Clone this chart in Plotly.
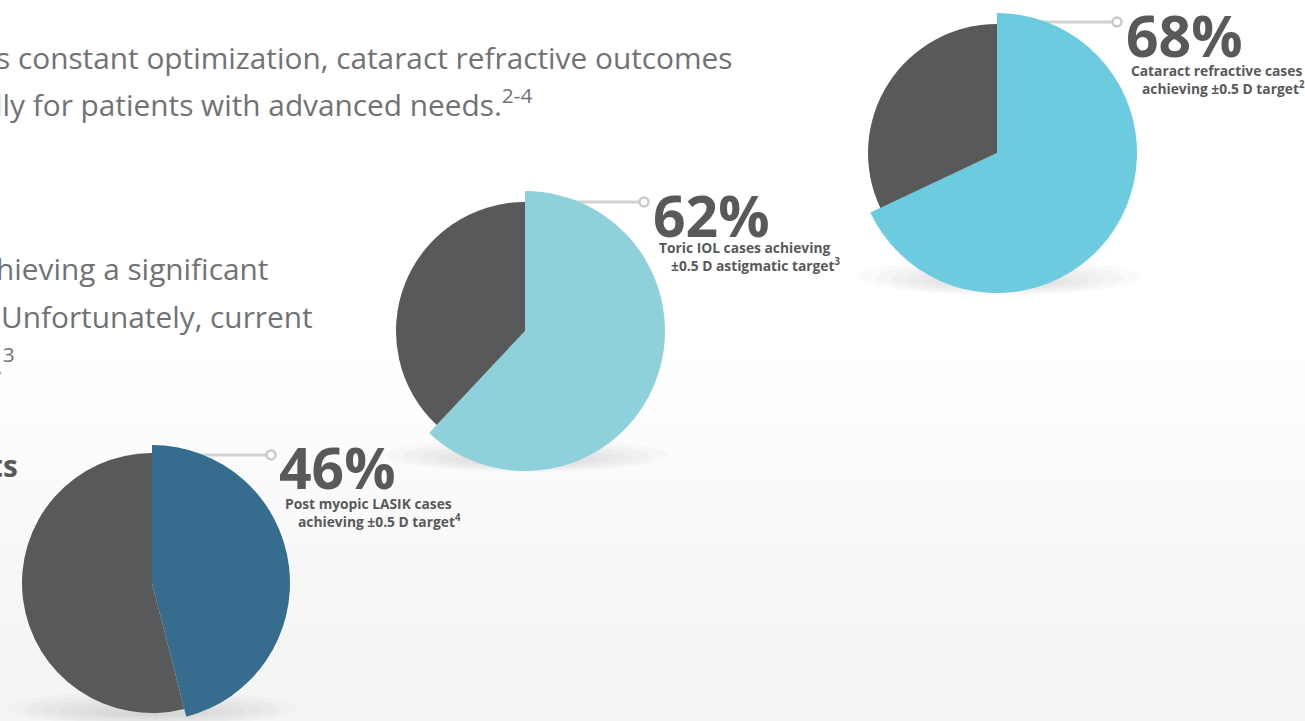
import plotly.graph_objects as go

W, H = 1305, 721

# ---- data ----
percents = [46, 62, 68]
big_labels = ["46%", "62%", "68%"]
caption_line1 = ["Post myopic LASIK cases", "Toric IOL cases achieving", "Cataract refractive cases"]
caption_line2 = ["achieving ±0.5 D target<sup>4</sup>", "±0.5 D astigmatic target<sup>3</sup>", "achieving ±0.5 D target<sup>2</sup>"]

# ---- style / layout ----
accent = ["#366d8e", "#8ed1da", "#6dcbe0"]
GRAY = "#58595b"
centers = [(152, 583), (525, 331), (997, 153)]
r_out = [138, 140, 140]
r_in = [130, 129, 129]
big_pos = [(277, 467), (651, 215), (1124, 35)]
cap1_pos = [(283, 503), (657, 247), (1129, 70)]
cap2_pos = [(296, 521), (669, 265), (1140, 88)]
ring_x = [271, 644, 1117]
line_y = [455, 202, 22]

fig = go.Figure()

def dom(cx, cy, r):
    x0 = max(0, (cx - r) / W); x1 = min(1, (cx + r) / W)
    y0 = max(0, 1 - (cy + r) / H); y1 = min(1, 1 - (cy - r) / H)
    return dict(x=[x0, x1], y=[y0, y1])

# connectors (drawn on hidden cartesian axes, beneath pies)
for i in range(3):
    cx, cy = centers[i]
    fig.add_trace(go.Scatter(x=[cx, ring_x[i] - 4], y=[line_y[i], line_y[i]], mode="lines",
                             line=dict(color="#d1d2d4", width=3), hoverinfo="skip", showlegend=False))
    fig.add_trace(go.Scatter(x=[ring_x[i]], y=[line_y[i]], mode="markers",
                             marker=dict(symbol="circle", size=9, color="white",
                                         line=dict(color="#c8c9cb", width=2.5)),
                             hoverinfo="skip", showlegend=False))

for i, p in enumerate(percents):
    cx, cy = centers[i]
    vals = [p, 100 - p]
    fig.add_trace(go.Pie(values=vals, labels=["a", "b"], sort=False, direction="clockwise", rotation=0,
                         marker=dict(colors=[accent[i], "rgba(0,0,0,0)"], line=dict(width=0)),
                         textinfo="none", hoverinfo="skip", showlegend=False,
                         domain=dom(cx, cy, r_out[i])))
    fig.add_trace(go.Pie(values=vals, labels=["a", "b"], sort=False, direction="clockwise", rotation=0,
                         marker=dict(colors=["rgba(0,0,0,0)", GRAY], line=dict(width=0)),
                         textinfo="none", hoverinfo="skip", showlegend=False,
                         domain=dom(cx, cy, r_in[i])))

shapes = []
# subtle background gradient towards bottom
for k in range(10):
    y0 = 360 + k * 30
    shapes.append(dict(type="rect", xref="x", yref="y", x0=0, x1=W, y0=y0, y1=H, layer="below",
                       line=dict(width=0), fillcolor="#eef0f3", opacity=0.045))
# shadows under pies
shadow_c = [(152, 708, 145, 17), (527, 455, 140, 17), (999, 277, 141, 18)]
for (sx, sy, rx, ry) in shadow_c:
    for k in range(7):
        f = 1 - k * 0.12
        shapes.append(dict(type="circle", xref="x", yref="y", layer="below",
                           x0=sx - rx * f, x1=sx + rx * f, y0=sy - ry * f + k * 1.5, y1=sy + ry * f + k * 0.5,
                           line=dict(width=0), fillcolor="#8f9195", opacity=0.045))

ann = []
for i in range(3):
    ann.append(dict(x=big_pos[i][0], y=big_pos[i][1], text=f"<b>{big_labels[i]}</b>", xref="x", yref="y",
                    xanchor="left", yanchor="middle", showarrow=False,
                    font=dict(family="Open Sans", size=57, color=GRAY)))
    ann.append(dict(x=cap1_pos[i][0], y=cap1_pos[i][1], text=f"<b>{caption_line1[i]}</b>", xref="x", yref="y",
                    xanchor="left", yanchor="middle", showarrow=False,
                    font=dict(family="Open Sans", size=13.8, color=GRAY)))
    ann.append(dict(x=cap2_pos[i][0], y=cap2_pos[i][1], text=f"<b>{caption_line2[i]}</b>", xref="x", yref="y",
                    xanchor="left", yanchor="middle", showarrow=False,
                    font=dict(family="Open Sans", size=13.8, color=GRAY)))

body = [
    ("s constant optimization, cataract refractive outcomes", 735, 57),
    ("lly for patients with advanced needs.<sup>2-4</sup>", 534, 103),
    ("hieving a significant", 270, 268),
    ("Unfortunately, current", 315, 316),
    (".<sup>3</sup>", 17, 362),
]
for t, xr, yy in body:
    ann.append(dict(x=xr, y=yy, text=t, xref="x", yref="y", xanchor="right", yanchor="middle",
                    showarrow=False, font=dict(family="Open Sans", size=29.8, color="#717275")))
ann.append(dict(x=20, y=465, text="<b>ts</b>", xref="x", yref="y", xanchor="right", yanchor="middle",
                showarrow=False, font=dict(family="Open Sans", size=29.8, color=GRAY)))

fig.update_layout(
    width=W, height=H, margin=dict(l=0, r=0, t=0, b=0),
    paper_bgcolor="white", plot_bgcolor="rgba(0,0,0,0)",
    xaxis=dict(range=[0, W], visible=False, fixedrange=True),
    yaxis=dict(range=[H, 0], visible=False, fixedrange=True),
    shapes=shapes, annotations=ann, showlegend=False,
)
fig.write_html("out.html")
